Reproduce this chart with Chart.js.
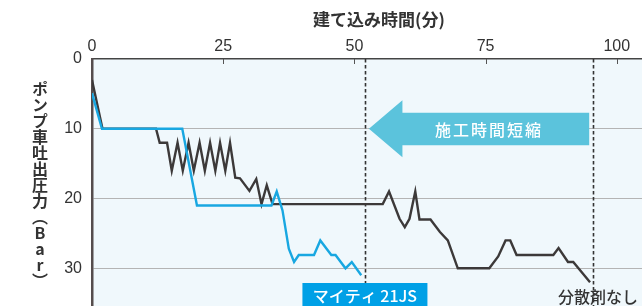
<!DOCTYPE html>
<html lang="ja">
<head>
<meta charset="utf-8">
<script src="https://cdn.jsdelivr.net/npm/chart.js@4.4.1/dist/chart.umd.min.js"></script>
<style>
  html, body { margin: 0; padding: 0; background: #ffffff; }
  #wrap { position: relative; width: 642px; height: 306px; overflow: hidden; }
  #c { position: absolute; left: 0; top: 0; }
  #ytitle {
    position: absolute; left: 32px; top: 81px;
    writing-mode: vertical-rl; text-orientation: upright;
    font: bold 16px "Noto Sans CJK JP", sans-serif; line-height: 16px;
    color: #333333; white-space: nowrap;
  }
</style>
</head>
<body>
<div id="wrap">
  <canvas id="c" width="642" height="306"></canvas>
  <div id="ytitle">ポンプ車吐出圧力（Bar）</div>
</div>
<script>
// ---- data ----
const X_TICKS = [0, 25, 50, 75, 100];
const Y_TICKS = [0, 10, 20, 30];
const X_MAX = 104.8;
const Y_MAX = 35.4;

const SERIES_NAMES = ['マイティ 21JS', '分散剤なし'];

// マイティ 21JS (blue)
const blueTime = [0, 1.9, 17.2, 20.0, 34.2, 35.2, 36.3, 37.5, 38.5, 39.4, 42.3, 43.5, 45.6, 46.4, 48.3, 49.5, 51.3];
const bluePressure = [4.9, 10, 10, 21, 21, 19, 21.7, 27.2, 29.1, 28.1, 28.1, 26, 28.1, 28.1, 30, 29.1, 31];

// 分散剤なし (dark)
const darkTime = [0, 2, 12.2, 12.9, 14.3, 15.2, 16.3, 17.3, 18.4, 19.4, 20.5, 21.5, 22.5, 23.5, 24.4, 25.4, 26.3,
  27.3, 28.2, 30.0, 31.3, 32.3, 33.3, 34.4, 55.4, 56.6, 58.6, 59.6, 60.5, 61.6, 62.4, 64.5, 66.3, 67.8, 69.7,
  75.7, 77.4, 78.8, 79.7, 80.9, 87.9, 88.9, 90.7, 91.7, 94.9];
const darkPressure = [3, 10, 10, 12, 12, 16, 12, 16, 12, 16, 12, 16, 12, 16, 12, 16, 12,
  17, 17.1, 18.9, 17.2, 20.8, 18.1, 20.8, 20.8, 19, 22.9, 24.1, 22.9, 19, 23, 23, 24.8, 26, 30,
  30, 28.3, 26, 26, 28.1, 28.1, 27.1, 29.1, 29.1, 32];

// end-of-work markers (minutes)
const END_MARKERS = [52.1, 95.5];
const ARROW_TEXT = '施工時間短縮';
const X_TITLE = '建て込み時間(分)';

const toPoints = (xs, ys) => xs.map((x, i) => ({ x, y: ys[i] }));

const BLUE = '#18a7e1';
const DARK = '#3c3939';

const decoPlugin = {
  id: 'deco',
  beforeDraw(chart) {
    const { ctx, chartArea: a } = chart;
    ctx.save();
    ctx.fillStyle = '#f0f8fc';
    ctx.fillRect(a.left, a.top, a.right - a.left, a.bottom - a.top);
    ctx.restore();
  },
  beforeDatasetsDraw(chart) {
    const { ctx, chartArea: a, scales: { x } } = chart;
    ctx.save();
    ctx.strokeStyle = '#333333';
    ctx.lineWidth = 1.6;
    ctx.setLineDash([3.5, 2.5]);
    END_MARKERS.forEach(v => {
      const px = Math.round(x.getPixelForValue(v)) + 0.5;
      ctx.beginPath();
      ctx.moveTo(px, a.top);
      ctx.lineTo(px, a.bottom);
      ctx.stroke();
    });
    ctx.restore();
  },
  afterDraw(chart) {
    const { ctx, chartArea: a, scales: { x, y } } = chart;
    ctx.save();
    // inward tick marks on top axis
    ctx.strokeStyle = '#555';
    ctx.lineWidth = 1;
    X_TICKS.slice(1).forEach(v => {
      const px = Math.round(x.getPixelForValue(v)) + 0.5;
      ctx.beginPath();
      ctx.moveTo(px, a.top);
      ctx.lineTo(px, a.top + 5);
      ctx.stroke();
    });

    // x axis title
    ctx.fillStyle = '#333333';
    ctx.font = 'bold 17px "Noto Sans CJK JP", sans-serif';
    ctx.textAlign = 'center';
    ctx.textBaseline = 'middle';
    ctx.fillText(X_TITLE, 379, 20);

    // arrow
    const tipX = x.getPixelForValue(END_MARKERS[0]) + 3.5;
    const endX = x.getPixelForValue(END_MARKERS[1]) - 4;
    const cy = y.getPixelForValue(10);
    const headX = tipX + 33.5;
    ctx.fillStyle = '#5bc3dc';
    ctx.beginPath();
    ctx.moveTo(tipX, cy);
    ctx.lineTo(headX, cy - 28.5);
    ctx.lineTo(headX, cy - 16);
    ctx.lineTo(endX, cy - 16);
    ctx.lineTo(endX, cy + 16.5);
    ctx.lineTo(headX, cy + 16.5);
    ctx.lineTo(headX, cy + 28.5);
    ctx.closePath();
    ctx.fill();
    ctx.fillStyle = '#ffffff';
    ctx.font = '500 16px "Noto Sans CJK JP", sans-serif';
    ctx.letterSpacing = '2px';
    ctx.textAlign = 'center';
    ctx.fillText(ARROW_TEXT, 489, cy + 1.5);
    ctx.letterSpacing = '0px';

    // series labels
    const bx = x.getPixelForValue(END_MARKERS[0]);
    ctx.fillStyle = '#00a0e6';
    ctx.fillRect(bx - 63, 283, 125, 26);
    ctx.fillStyle = '#ffffff';
    ctx.font = '500 16px "Noto Sans CJK JP", sans-serif';
    ctx.fillText(SERIES_NAMES[0], bx - 0.5, 296);
    ctx.fillStyle = '#333333';
    ctx.textAlign = 'left';
    ctx.fillText(SERIES_NAMES[1], 558, 297);
    ctx.restore();
  }
};

new Chart(document.getElementById('c'), {
  type: 'line',
  data: {
    datasets: [
      {
        label: SERIES_NAMES[0],
        data: toPoints(blueTime, bluePressure),
        borderColor: BLUE, borderWidth: 2.4, pointRadius: 0, tension: 0, order: 0,
        borderJoinStyle: 'miter'
      },
      {
        label: SERIES_NAMES[1],
        data: toPoints(darkTime, darkPressure),
        borderColor: DARK, borderWidth: 2.4, pointRadius: 0, tension: 0, order: 1,
        borderJoinStyle: 'miter'
      }
    ]
  },
  options: {
    responsive: false,
    animation: false,
    devicePixelRatio: 1,
    layout: { padding: 0 },
    plugins: { legend: { display: false }, tooltip: { enabled: false } },
    scales: {
      x: {
        type: 'linear', position: 'top', min: 0, max: X_MAX,
        afterBuildTicks: s => { s.ticks = X_TICKS.map(v => ({ value: v })); },
        afterFit: s => { s.height = 59; s.paddingLeft = 0; s.paddingRight = 0; },
        ticks: { color: '#333333', font: { family: 'Liberation Sans', size: 16 }, padding: 3, maxRotation: 0, autoSkip: false },
        grid: { display: false, drawTicks: false },
        border: { display: true, color: '#444444', width: 1.5 }
      },
      y: {
        type: 'linear', reverse: true, min: 0, max: Y_MAX,
        afterBuildTicks: s => { s.ticks = Y_TICKS.map(v => ({ value: v })); },
        afterFit: s => { s.width = 92; s.paddingTop = 0; s.paddingBottom = 0; },
        ticks: { color: '#333333', font: { family: 'Liberation Sans', size: 16 }, padding: 10 },
        grid: { color: ctx => ctx.tick && ctx.tick.value === 0 ? 'rgba(0,0,0,0)' : '#b4b4b4', lineWidth: 1, drawTicks: false },
        border: { display: true, color: '#554d4d', width: 2.5 }
      }
    }
  },
  plugins: [decoPlugin]
});
</script>
</body>
</html>
